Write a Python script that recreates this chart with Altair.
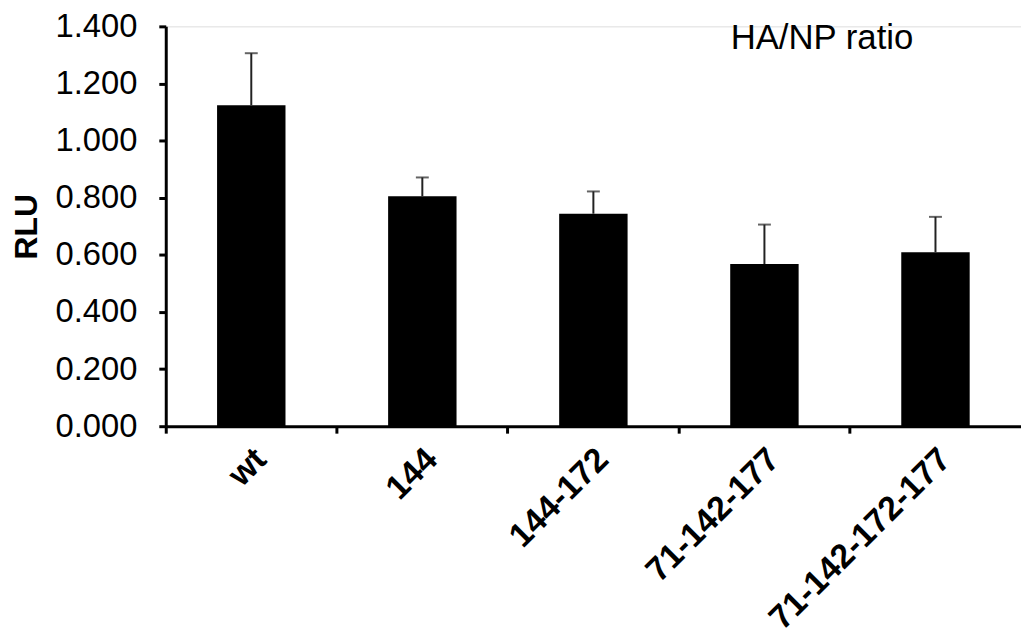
import altair as alt
import pandas as pd

categories = ["wt", "144", "144-172", "71-142-177", "71-142-172-177"]
values = [1.124, 0.805, 0.744, 0.568, 0.609]
errors = [0.182, 0.066, 0.078, 0.138, 0.124]
y_ticks = [0.0, 0.2, 0.4, 0.6, 0.8, 1.0, 1.2, 1.4]
annotation = "HA/NP ratio"

df = pd.DataFrame({
    "cat": categories,
    "val": values,
    "err": errors,
})
df["upper"] = df["val"] + df["err"]

FONT = "Liberation Sans"

x_enc = alt.X(
    "cat:N",
    sort=categories,
    scale=alt.Scale(paddingInner=0, paddingOuter=0),
    axis=alt.Axis(
        title=None,
        bandPosition=0,
        labelAngle=-45,
        labelAlign="right",
        labelBaseline="top",
        labelFont=FONT,
        labelFontSize=34,
        labelFontWeight="bold",
        labelColor="black",
        labelPadding=9,
        labelOffset=-2,
        labelLimit=0,
        tickSize=7,
        tickWidth=3,
        tickColor="black",
        domainColor="black",
        domainWidth=3,
        grid=False,
        labelOverlap=False,
    ),
)

y_scale = alt.Scale(domain=[0, 1.4], nice=False, zero=True)

bars = alt.Chart(df).mark_bar(
    color="black", width=alt.RelativeBandSize(0.4)
).encode(
    x=x_enc,
    y=alt.Y(
        "val:Q",
        scale=y_scale,
        axis=alt.Axis(
            title="RLU",
            titleFont=FONT,
            titleFontSize=32,
            titleFontWeight="bold",
            titleColor="black",
            titlePadding=12,
            values=y_ticks,
            format=".3f",
            labelFont=FONT,
            labelFontSize=33,
            labelColor="black",
            labelPadding=22,
            tickSize=7,
            tickWidth=3,
            tickColor="black",
            domainColor="black",
            domainWidth=3,
            grid=False,
        ),
    ),
)

rules = alt.Chart(df).mark_rule(color="#222222", strokeWidth=2).encode(
    x=alt.X("cat:N", sort=categories),
    y="val:Q",
    y2="upper:Q",
)

caps = alt.Chart(df).mark_tick(color="#222222", thickness=2, size=13).encode(
    x=alt.X("cat:N", sort=categories),
    y="upper:Q",
)

label = alt.Chart(pd.DataFrame({"t": [annotation], "cat": ["71-142-177"], "yv": [1.320]})).mark_text(
    font=FONT, fontSize=35, color="black", align="center", baseline="alphabetic", dx=58
).encode(
    x=alt.X("cat:N", sort=categories),
    y=alt.Y("yv:Q"),
    text="t:N",
)

chart = alt.layer(bars, rules, caps, label).properties(
    width=862,
    height=403,
    autosize=alt.AutoSizeParams(type="none"),
    padding={"left": 159, "top": 16, "right": 0, "bottom": 216},
).configure_view(stroke=None).configure(background="white")

chart.save("out.html", embed_options={"renderer": "svg", "actions": False})
